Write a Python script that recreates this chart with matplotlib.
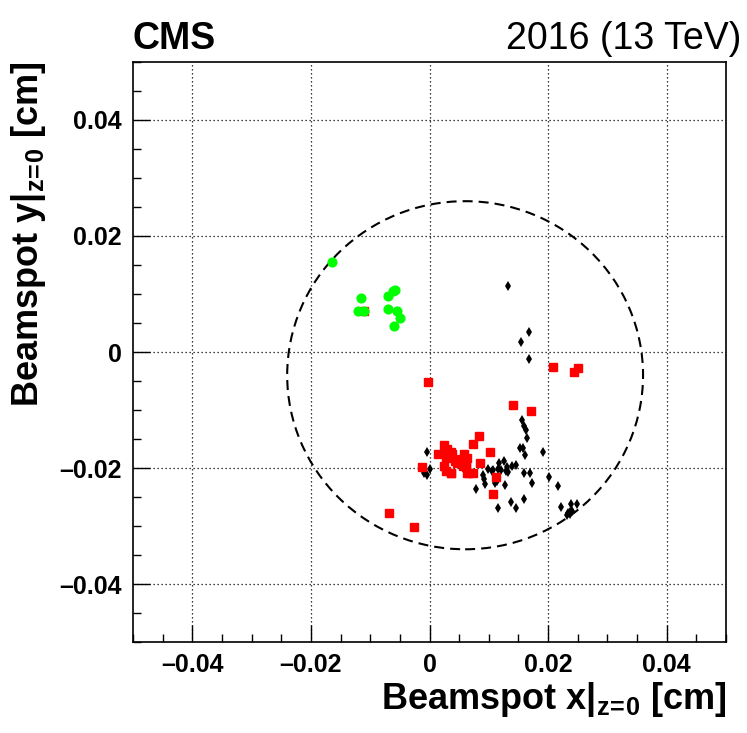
import numpy as np
import matplotlib
matplotlib.use('Agg')
import matplotlib.pyplot as plt
from matplotlib.patches import Circle
from matplotlib.ticker import MultipleLocator

plt.rcParams['font.family'] = ['Liberation Sans', 'DejaVu Sans']
plt.rcParams['mathtext.fontset'] = 'custom'
plt.rcParams['mathtext.rm'] = 'Liberation Sans'
plt.rcParams['mathtext.bf'] = 'Liberation Sans:bold'
plt.rcParams['mathtext.it'] = 'Liberation Sans:italic'

# beamspot positions (cm)
green_x = [-0.0165, -0.0116, -0.0121, -0.0111, -0.0062, -0.0058, -0.0070,
           -0.0070, -0.0054, -0.0050, -0.0060]
green_y = [0.0155, 0.0093, 0.0070, 0.0070, 0.0106, 0.0107, 0.0097,
           0.0074, 0.0070, 0.0059, 0.0045]

red_x = [-0.0002, 0.0208, 0.0251, 0.0244, 0.0141, 0.0171, 0.0084, 0.0074,
         0.0102, 0.0025, 0.0015, 0.0030, 0.0036, 0.0058, 0.0064, 0.0053,
         0.0085, 0.0027, 0.0047, 0.0056, -0.0012, 0.0024, 0.0028, 0.0037,
         0.0062, 0.0064, 0.0073, 0.0112, 0.0107, -0.0068, -0.0026, -0.0110,
         0.0038, 0.0043, 0.0050, 0.0061, 0.0036, 0.0066]
red_y = [-0.0051, -0.0025, -0.0027, -0.0035, -0.0092, -0.0102, -0.0144,
         -0.0159, -0.0173, -0.0161, -0.0175, -0.0168, -0.0173, -0.0175,
         -0.0182, -0.0185, -0.0191, -0.0182, -0.0191, -0.0196, -0.0199,
         -0.0197, -0.0205, -0.0208, -0.0197, -0.0209, -0.0209, -0.0215,
         -0.0244, -0.0277, -0.0301, 0.0070, -0.0176, -0.0188, -0.0190,
         -0.0199, -0.0208, -0.0209]

black_x = [0.0133, 0.0168, 0.0154, 0.0168, 0.0156, 0.0160, 0.0162, 0.0165,
           0.0153, 0.0158, 0.0161, 0.0191, -0.0004, 0.0001, -0.0009, -0.0004,
           0.0099, 0.0107, 0.0117, 0.0125, 0.0115, 0.0120, 0.0129, 0.0133,
           0.0139, 0.0146, 0.0159, 0.0170, 0.0202, 0.0090, 0.0092, 0.0094,
           0.0111, 0.0114, 0.0127, 0.0173, 0.0217, 0.0079, 0.0137, 0.0145,
           0.0160, 0.0115, 0.0221, 0.0234, 0.0236, 0.0239, 0.0248, 0.0237,
           0.0232, 0.0241, 0.0131, 0.0106]
black_y = [0.0113, 0.0035, 0.0017, -0.0012, -0.0117, -0.0127, -0.0134,
           -0.0148, -0.0165, -0.0165, -0.0177, -0.0173, -0.0172, -0.0201,
           -0.0208, -0.0212, -0.0201, -0.0204, -0.0192, -0.0187, -0.0202,
           -0.0203, -0.0205, -0.0207, -0.0197, -0.0195, -0.0208, -0.0208,
           -0.0215, -0.0212, -0.0218, -0.0228, -0.0225, -0.0223, -0.0229,
           -0.0226, -0.0231, -0.0236, -0.0258, -0.0268, -0.0253, -0.0269,
           -0.0267, -0.0278, -0.0276, -0.0262, -0.0262, -0.0280, -0.0281,
           -0.0274, -0.0199, -0.0205]

# fitted circle
circ_x0 = 0.0060
circ_y0 = -0.0040
circ_r = 0.0300

fig = plt.figure(figsize=(7.47, 7.33), dpi=100)
ax = fig.add_axes([0.178, 0.124, 0.794, 0.7915])

ax.set_xlim(-0.05, 0.05)
ax.set_ylim(-0.05, 0.05)

# grid
ax.grid(True, which='major', color='black', linestyle=(0, (1, 2.2)), linewidth=0.9)
ax.set_axisbelow(True)

ax.add_patch(Circle((circ_x0, circ_y0), circ_r, fill=False, edgecolor='black',
                    linestyle=(0, (4.8, 2.9)), linewidth=1.5, zorder=2))

ax.plot(black_x, black_y, 'd', color='black', markersize=5.2,
        markeredgewidth=0, zorder=3)
ax.plot(red_x, red_y, 's', color='#ff0000', markersize=6, zorder=4)
ax.plot(green_x, green_y, 'o', color='#00ff00', markersize=6.3, zorder=5)

# ticks
ax.xaxis.set_major_locator(MultipleLocator(0.02))
ax.yaxis.set_major_locator(MultipleLocator(0.02))
ax.xaxis.set_minor_locator(MultipleLocator(0.005))
ax.yaxis.set_minor_locator(MultipleLocator(0.005))
ax.tick_params(which='both', direction='in', top=False, right=False,
               width=1.0, labelsize=18, pad=8)
ax.tick_params(which='major', length=12)
ax.tick_params(which='minor', length=6)

def fmt(v):
    if abs(v) < 1e-9:
        return '0'
    return ('%.2f' % v).replace('-', '\u2013')

ticks = [-0.04, -0.02, 0.0, 0.02, 0.04]
ax.set_xticks(ticks)
ax.set_yticks(ticks)
ax.set_xticklabels([fmt(t) for t in ticks], fontweight='bold')
ax.set_yticklabels([fmt(t) for t in ticks], fontweight='bold')

for s in ax.spines.values():
    s.set_linewidth(1.2)

ax.set_xlabel(r'Beamspot x$\mathbf{|_{z\!=\!0}}$ [cm]', fontsize=26,
              fontweight='bold', loc='right', labelpad=2)
ax.set_ylabel(r'Beamspot y$\mathbf{|_{z\!=\!0}}$ [cm]', fontsize=26,
              fontweight='bold', loc='top', labelpad=8)

fig.text(0.178, 0.933, 'CMS', fontsize=27, fontweight='bold',
         ha='left', va='baseline')
fig.text(0.993, 0.933, '2016 (13 TeV)', fontsize=27,
         ha='right', va='baseline')

fig.savefig('out.png', dpi=100)
